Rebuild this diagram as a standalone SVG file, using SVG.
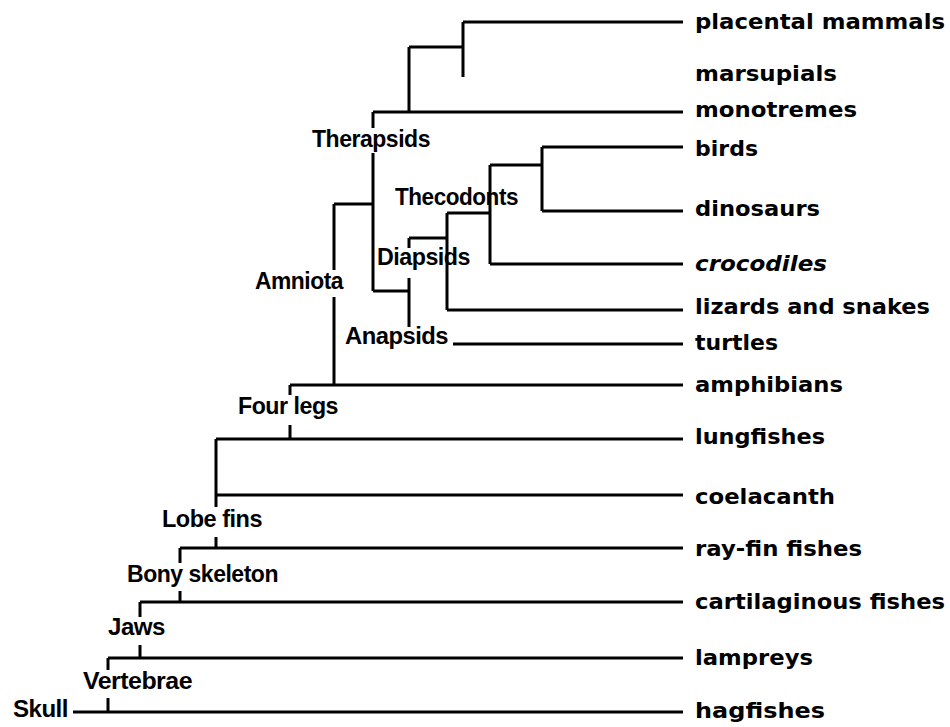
<svg xmlns="http://www.w3.org/2000/svg" width="950" height="727" viewBox="0 0 950 727">
<style>
.ln{fill:none;stroke:#000;stroke-width:3;stroke-linecap:butt}
.nl{font-family:"Liberation Sans",Arial,sans-serif;font-weight:bold;font-size:24px;fill:#000;letter-spacing:-0.5px}
.tl{font-family:"DejaVu Sans","Liberation Sans",sans-serif;font-weight:bold;font-size:22px;fill:#000}
</style>
<rect width="950" height="727" fill="#fff"/>
<g id="connectors" class="ln">
<path d="M463,22H683M463,22V77"/>
<path d="M409,47H463M409,47V112"/>
<path d="M373,112H683M373,112V128M373,153V291"/>
<path d="M334,204H373M334,204V270M334,297V385"/>
<path d="M373,291H409M409,238V248M409,278V327M409,238H447"/>
<path d="M447,213V310M447,213H490M447,310H683"/>
<path d="M490,165V264M490,165H542M490,264H683"/>
<path d="M542,147V211M542,147H683M542,211H683"/>
<path d="M453,344H683"/>
<path d="M290,385H683M290,385V395M290,425V439"/>
<path d="M216,439H683M216,495H683M216,439V507M216,537V548"/>
<path d="M180,548H683M180,548V563M180,591V602"/>
<path d="M140,602H683M140,602V617M140,645V658"/>
<path d="M108,658H683M108,658V670M108,698V712"/>
<path d="M73,712H683"/>
</g>
<g id="n-therapsids"><text class="nl" x="312" y="147" textLength="118" lengthAdjust="spacingAndGlyphs">Therapsids</text></g>
<g id="n-thecodonts"><text class="nl" x="395" y="205" textLength="123" lengthAdjust="spacingAndGlyphs">Thecodonts</text></g>
<g id="n-diapsids"><text class="nl" x="377" y="265" textLength="93" lengthAdjust="spacingAndGlyphs">Diapsids</text></g>
<g id="n-anapsids"><text class="nl" x="345" y="344" textLength="103" lengthAdjust="spacingAndGlyphs">Anapsids</text></g>
<g id="n-amniota"><text class="nl" x="255" y="289" textLength="88" lengthAdjust="spacingAndGlyphs">Amniota</text></g>
<g id="n-fourlegs"><text class="nl" x="238" y="414" textLength="100" lengthAdjust="spacingAndGlyphs">Four legs</text></g>
<g id="n-lobefins"><text class="nl" x="162" y="527" textLength="100" lengthAdjust="spacingAndGlyphs">Lobe fins</text></g>
<g id="n-bony"><text class="nl" x="127" y="582" textLength="151" lengthAdjust="spacingAndGlyphs">Bony skeleton</text></g>
<g id="n-jaws"><text class="nl" x="108" y="635" textLength="57" lengthAdjust="spacingAndGlyphs">Jaws</text></g>
<g id="n-vertebrae"><text class="nl" x="83" y="689" textLength="109" lengthAdjust="spacingAndGlyphs">Vertebrae</text></g>
<g id="n-skull"><text class="nl" x="13" y="717" textLength="55" lengthAdjust="spacingAndGlyphs">Skull</text></g>
<g id="t-placental"><text class="tl" x="695" y="29" textLength="250" lengthAdjust="spacingAndGlyphs">placental mammals</text></g>
<g id="t-marsupials"><text class="tl" x="695" y="81" textLength="142" lengthAdjust="spacingAndGlyphs">marsupials</text></g>
<g id="t-monotremes"><text class="tl" x="695" y="117" textLength="162" lengthAdjust="spacingAndGlyphs">monotremes</text></g>
<g id="t-birds"><text class="tl" x="695" y="156" textLength="63" lengthAdjust="spacingAndGlyphs">birds</text></g>
<g id="t-dinosaurs"><text class="tl" x="695" y="216" textLength="125" lengthAdjust="spacingAndGlyphs">dinosaurs</text></g>
<g id="t-crocodiles"><text class="tl" x="695" y="271" font-style="italic" textLength="132" lengthAdjust="spacingAndGlyphs">crocodiles</text></g>
<g id="t-lizards"><text class="tl" x="695" y="314" textLength="235" lengthAdjust="spacingAndGlyphs">lizards and snakes</text></g>
<g id="t-turtles"><text class="tl" x="695" y="350" textLength="83" lengthAdjust="spacingAndGlyphs">turtles</text></g>
<g id="t-amphibians"><text class="tl" x="695" y="392" textLength="148" lengthAdjust="spacingAndGlyphs">amphibians</text></g>
<g id="t-lungfishes"><text class="tl" x="695" y="444" textLength="130" lengthAdjust="spacingAndGlyphs">lungfishes</text></g>
<g id="t-coelacanth"><text class="tl" x="695" y="504" textLength="140" lengthAdjust="spacingAndGlyphs">coelacanth</text></g>
<g id="t-rayfin"><text class="tl" x="695" y="556" textLength="167" lengthAdjust="spacingAndGlyphs">ray-fin fishes</text></g>
<g id="t-cartilaginous"><text class="tl" x="695" y="609" textLength="250" lengthAdjust="spacingAndGlyphs">cartilaginous fishes</text></g>
<g id="t-lampreys"><text class="tl" x="695" y="665" textLength="118" lengthAdjust="spacingAndGlyphs">lampreys</text></g>
<g id="t-hagfishes"><text class="tl" x="695" y="718" textLength="130" lengthAdjust="spacingAndGlyphs">hagfishes</text></g>
</svg>
